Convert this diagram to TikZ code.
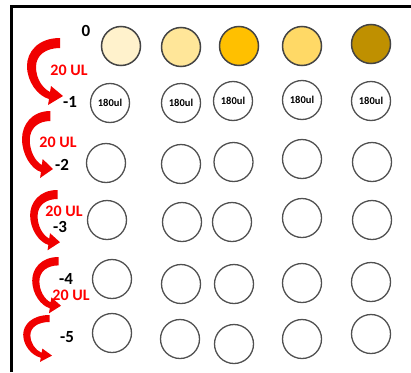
\documentclass[tikz,border=0pt]{standalone}
\usepackage{fontspec}
\setmainfont{Carlito}
\definecolor{wellgray}{HTML}{505050}
\definecolor{ca}{HTML}{FFF2CC}
\definecolor{cb}{HTML}{FFE699}
\definecolor{cc}{HTML}{FFC000}
\definecolor{cd}{HTML}{FFD966}
\definecolor{ce}{HTML}{BF9000}
\definecolor{arrred}{HTML}{F00000}
\tikzset{
  well/.style={circle, draw=wellgray, line width=1.3pt, minimum size=39pt, inner sep=0pt},
  cwell/.style={well, draw=wellgray!85!black, line width=1.5pt},
  lvl/.style={font=\bfseries\fontsize{17}{17}\selectfont, inner sep=1pt},
  vol/.style={text=red, font=\bfseries\fontsize{16}{16}\selectfont, inner sep=1pt},
  small/.style={font=\bfseries\fontsize{10.5}{10.5}\selectfont},
  redarr/.style={fill=arrred, draw=none}
}
\newcommand{\dilutionarrow}[4]{%
  \begin{scope}[shift={(#1,#2)}, xscale=#3, yscale=#4]
    \fill[redarr] (0,0) .. controls (-22,0) and (-33,14) .. (-33,28)
      .. controls (-33,44) and (-22,58) .. (-11,61) -- (-12,67) -- (3,58) -- (-9,48) -- (-10,54)
      .. controls (-18,50) and (-24,40) .. (-24,29)
      .. controls (-24,17) and (-14,10) .. (0,10) -- cycle;
  \end{scope}}
\begin{document}
\begin{tikzpicture}[x=1pt, y=-1pt]
\useasboundingbox (0,0) rectangle (411,372);
% frame
\draw[line width=2.5pt] (11.5,372) -- (11.5,6.5) -- (411,6.5);
% arrows
\dilutionarrow{60}{38}{1}{1}
\dilutionarrow{50.4}{111}{0.86}{1}
\dilutionarrow{57.5}{190}{0.83}{0.9}
\dilutionarrow{58.6}{257}{0.8}{0.84}
\dilutionarrow{49.6}{315}{0.8}{0.7}
% row 0
\node[cwell, fill=ca] (r0a) at (121,46) {};
\node[cwell, fill=cb] (r0b) at (181,47) {};
\node[cwell, fill=cc] (r0c) at (239,46) {};
\node[cwell, fill=cd] (r0d) at (302,46) {};
\node[cwell, fill=ce] (r0e) at (371,44) {};
% row -1
\node[well, small] (r1a) at (110,103) {180ul};
\node[well, small] (r1b) at (181,103) {180ul};
\node[well, small] (r1c) at (233,101) {180ul};
\node[well, small] (r1d) at (302,100) {180ul};
\node[well, small] (r1e) at (371,101) {180ul};
% row -2
\node[well] (r2a) at (106,163) {};
\node[well] (r2b) at (181,164) {};
\node[well] (r2c) at (233.5,162) {};
\node[well] (r2d) at (302,159) {};
\node[well] (r2e) at (372,162) {};
% row -3
\node[well] (r3a) at (107,220) {};
\node[well] (r3b) at (182,222) {};
\node[well] (r3c) at (232,222) {};
\node[well] (r3d) at (302,218) {};
\node[well] (r3e) at (372,220) {};
% row -4
\node[well] (r4a) at (112,279) {};
\node[well] (r4b) at (181,284) {};
\node[well] (r4c) at (234,284) {};
\node[well] (r4d) at (302,283) {};
\node[well] (r4e) at (371,282) {};
% row -5
\node[well] (r5a) at (112,333) {};
\node[well] (r5b) at (180,339) {};
\node[well] (r5c) at (234,344) {};
\node[well] (r5d) at (302,339) {};
\node[well] (r5e) at (371,334) {};
% level labels
\node[lvl] (l0) at (86,31) {0};
\node[lvl] (l1) at (70,102) {-1};
\node[lvl] (l2) at (62,165) {-2};
\node[lvl] (l3) at (60,227) {-3};
\node[lvl] (l4) at (66,279) {-4};
\node[lvl] (l5) at (67,337) {-5};
% volume labels
\node[vol] (v1) at (69,70) {20 UL};
\node[vol] (v2) at (58,142) {20 UL};
\node[vol] (v3) at (64,211) {20 UL};
\node[vol] (v4) at (71,295) {20 UL};
\end{tikzpicture}
\end{document}
